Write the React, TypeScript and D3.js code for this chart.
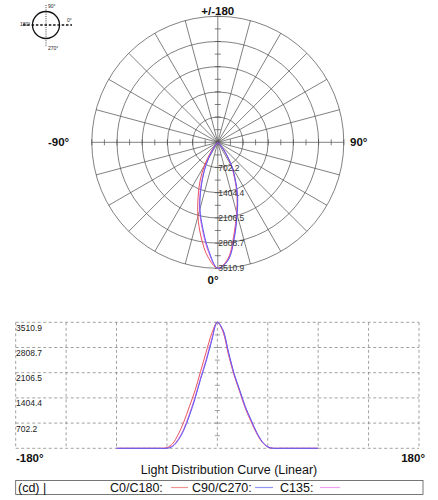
import React from "react";
import * as d3 from "d3";

const gammaAngles = [-90,-85,-80,-75,-70,-65,-60,-55,-50,-45,-40,-35,-30,-25,-20,-15,-10,-5,0,5,10,15,20,25,30,35,40,45,50,55,60,65,70,75,80,85,90];
const c0c180 = [0,0,0,0,0,0,0,0,0,20,130,380,730,1160,1600,2140,2680,3200,3510.9,3250,2600,2030,1570,1110,750,420,170,35,0,0,0,0,0,0,0,0,0];
const c90c270 = [0,0,0,0,0,0,0,0,0,0,50,220,500,900,1370,1920,2420,3000,3510.9,3300,2680,2080,1620,1160,800,450,190,40,0,0,0,0,0,0,0,0,0];
const c135 = [0,0,0,0,0,0,0,0,0,0,70,250,540,950,1420,1960,2470,3050,3510.9,3280,2650,2060,1600,1140,780,440,180,38,0,0,0,0,0,0,0,0,0];
const seriesNames = ["C0/C180:", "C90/C270:", "C135:"];
const seriesColors = ["#e8525c", "#5a5af2", "#dd66dd"];
const legendColors = ["#f09494", "#9494f4", "#f0a0f0"];
const valueTicks = [702.2, 1404.4, 2106.5, 2808.7, 3510.9];
const xTickDegrees = [-180, -135, -90, -45, 0, 45, 90, 135, 180];
const maxValue = 3510.9;

const FONT = "'Liberation Sans', Arial, sans-serif";

export default function App() {
  const series = [c0c180, c90c270, c135];
  // polar
  const cx = 217.8, cy = 142.3, R = 126;
  const r = d3.scaleLinear().domain([0, maxValue]).range([0, R]);
  const spokes = d3.range(0, 360, 15);
  const halfSteps = d3.range(1, 11).map((i) => (i * maxValue) / 10);
  const radial = d3
    .lineRadial<number>()
    .angle((_, i) => Math.PI - (gammaAngles[i] * Math.PI) / 180)
    .radius((v) => r(v))
    .curve(d3.curveCatmullRom);

  // linear
  const x = d3.scaleLinear().domain([-180, 180]).range([15.7, 419]);
  const y = d3.scaleLinear().domain([0, maxValue]).range([448.3, 322.3]);
  const line = d3
    .line<number>()
    .x((_, i) => x(gammaAngles[i]))
    .y((v) => y(v))
    .curve(d3.curveCatmullRom);

  const gridStroke = "#8a8a8a";
  const drawOrder = [0, 2, 1];

  return (
    <svg
      width={438}
      height={500}
      style={{ position: "absolute", left: 0, top: 0, background: "#fff" }}
      fontFamily={FONT}
    >
      <rect width={438} height={500} fill="#fff" />
      {/* icon */}
      <g>
        <circle cx={46} cy={25} r={13.5} fill="none" stroke="#111" strokeWidth={1.3} />
        <line x1={23} x2={72} y1={25} y2={25} stroke="#111" strokeWidth={1.4} strokeDasharray="2.5,1.8" />
        <line x1={46} x2={46} y1={5} y2={47} stroke="#111" strokeWidth={0.8} strokeDasharray="1,1.2" />
        <text x={48} y={8} fontSize={5} fill="#222">90°</text>
        <text x={67} y={22} fontSize={5} fill="#222">0°</text>
        <text x={20} y={26} fontSize={5} fill="#222">180°</text>
        <text x={48} y={50} fontSize={5} fill="#222">270°</text>
      </g>

      {/* polar grid */}
      <g stroke="#4a4a4a" strokeWidth={0.7} fill="none">
        {valueTicks.map((v) => (
          <circle key={v} cx={cx} cy={cy} r={r(v)} />
        ))}
        {spokes.map((a) => {
          const rad = (a * Math.PI) / 180;
          return (
            <line
              key={a}
              x1={cx}
              y1={cy}
              x2={cx + R * Math.sin(rad)}
              y2={cy + R * Math.cos(rad)}
            />
          );
        })}
        {halfSteps.map((v) => (
          <g key={v}>
            <line x1={cx - 3} x2={cx + 3} y1={cy - r(v)} y2={cy - r(v)} />
            <line x1={cx - 3} x2={cx + 3} y1={cy + r(v)} y2={cy + r(v)} />
            <line x1={cx - r(v)} x2={cx - r(v)} y1={cy - 3} y2={cy + 3} />
            <line x1={cx + r(v)} x2={cx + r(v)} y1={cy - 3} y2={cy + 3} />
          </g>
        ))}
      </g>
      {drawOrder.map((si) => (
        <path
          key={si}
          d={radial(series[si]) || ""}
          transform={`translate(${cx},${cy})`}
          fill="none"
          stroke={seriesColors[si]}
          strokeWidth={1}
        />
      ))}
      {valueTicks.map((v) => (
        <text key={v} x={cx + 0.5} y={cy + r(v) + 3} fontSize={8.5} fill="#333">
          {v.toFixed(1)}
        </text>
      ))}
      <text x={cx} y={15} fontSize={11.5} fontWeight="bold" textAnchor="middle" fill="#111">+/-180</text>
      <text x={48} y={146} fontSize={11.5} fontWeight="bold" fill="#111">-90°</text>
      <text x={350} y={146} fontSize={11.5} fontWeight="bold" fill="#111">90°</text>
      <text x={213} y={284} fontSize={11.5} fontWeight="bold" textAnchor="middle" fill="#111">0°</text>

      {/* linear chart grid */}
      <g stroke={gridStroke} strokeWidth={0.8} strokeDasharray="3,2.5" fill="none">
        {xTickDegrees.map((d) => (
          <line key={d} x1={x(d)} x2={x(d)} y1={y(maxValue)} y2={y(0)} />
        ))}
        {[0, ...valueTicks].map((v) => (
          <line key={v} x1={x(-180)} x2={x(180)} y1={y(v)} y2={y(v)} />
        ))}
      </g>
      <g stroke={gridStroke} strokeWidth={0.8}>
        {halfSteps.map((v) => (
          <line key={v} x1={x(0) - 2.5} x2={x(0) + 2.5} y1={y(v)} y2={y(v)} />
        ))}
      </g>
      {valueTicks.map((v) => (
        <text key={v} x={16} y={y(v) + 8.5} fontSize={8.5} fill="#222">
          {v.toFixed(1)}
        </text>
      ))}
      {drawOrder.map((si) => (
        <path
          key={si}
          d={line(series[si]) || ""}
          fill="none"
          stroke={seriesColors[si]}
          strokeWidth={1}
        />
      ))}
      <text x={16} y={462} fontSize={11.5} fontWeight="bold" fill="#111">-180°</text>
      <text x={425} y={462} fontSize={11.5} fontWeight="bold" textAnchor="end" fill="#111">180°</text>
      <text x={229} y={473.5} fontSize={12.5} textAnchor="middle" fill="#111">Light Distribution Curve (Linear)</text>

      {/* legend */}
      <rect x={15.7} y={480.5} width={407.3} height={14} fill="#fff" stroke="#555" strokeWidth={0.8} />
      <text x={18} y={491.5} fontSize={12.5} fill="#111">(cd) |</text>
      <text x={110} y={491.5} fontSize={12.5} fill="#111">{seriesNames[0]}</text>
      <line x1={171} x2={188} y1={487.5} y2={487.5} stroke={legendColors[0]} strokeWidth={1.2} />
      <text x={192} y={491.5} fontSize={12.5} fill="#111">{seriesNames[1]}</text>
      <line x1={255} x2={273} y1={487.5} y2={487.5} stroke={legendColors[1]} strokeWidth={1.2} />
      <text x={280} y={491.5} fontSize={12.5} fill="#111">{seriesNames[2]}</text>
      <line x1={320} x2={340} y1={487.5} y2={487.5} stroke={legendColors[2]} strokeWidth={1.2} />
    </svg>
  );
}
